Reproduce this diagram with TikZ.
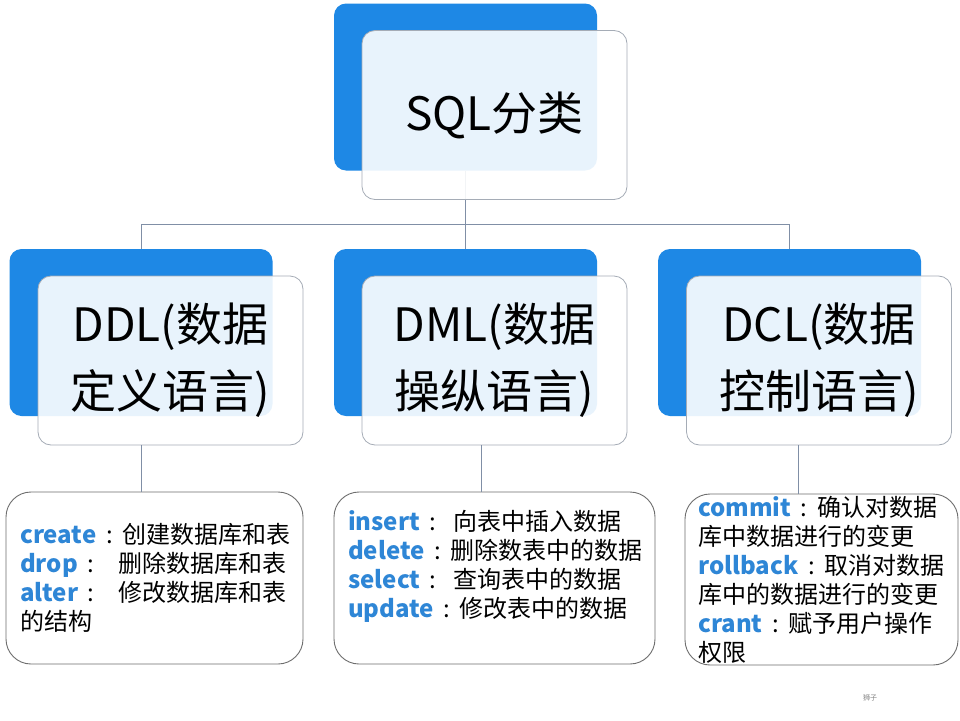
\documentclass[tikz,border=0pt]{standalone}
\usepackage{fontspec}
\setmainfont{Noto Sans CJK SC}
\usetikzlibrary{calc}
\definecolor{sqlblue}{RGB}{30,136,229}
\definecolor{kwblue}{RGB}{46,134,214}
\definecolor{connc}{RGB}{128,143,166}
\definecolor{wborder}{RGB}{165,172,182}
\definecolor{bborder}{RGB}{110,110,110}
\tikzset{
 bluebox/.style={fill=sqlblue, rounded corners=12pt, minimum width=263pt, minimum height=167pt, inner sep=0pt},
 whitebox/.style={draw=wborder, line width=0.8pt, fill=white, fill opacity=0.9, draw opacity=1, text opacity=1, rounded corners=13pt, minimum width=265pt, minimum height=169pt, inner sep=0pt, align=center, font=\fontsize{46}{67}\selectfont},
 detailbox/.style={draw=bborder, line width=0.9pt, fill=white, rounded corners=25pt, inner sep=0pt},
 detailtext/.style={anchor=north west, inner sep=0pt, align=left, font=\fontsize{24}{29}\selectfont},
 conn/.style={draw=connc, line width=0.9pt},
}
\newcommand{\kw}[1]{\textcolor{kwblue}{\bfseries #1}}
\newcommand{\cln}{\hspace{0.4em}:\hspace{0.4em}}
\begin{document}
\begin{tikzpicture}[x=1pt,y=-1pt]
\useasboundingbox[fill=white] (0,0) rectangle (960,720);
% blue back boxes
\node[bluebox] (topb) at (465.5,87) {};
\node[bluebox] (ddlb) at (141,332.5) {};
\node[bluebox] (dmlb) at (465.5,332.5) {};
\node[bluebox] (dclb) at (789.5,332.5) {};
% connectors
\coordinate (bus) at (465.5,224);
\draw[conn] (topb.south) -- (bus);
\draw[conn] (bus) -| (ddlb.north);
\draw[conn] (bus) -- (dmlb.north);
\draw[conn] (bus) -| (dclb.north);
% front boxes
\node[whitebox] (topw) at (494.5,115) {SQL分类};
\node[whitebox] (ddlw) at (170.5,360.5) {DDL(数据\\定义语言)};
\node[whitebox] (dmlw) at (494.5,360.5) {DML(数据\\操纵语言)};
\node[whitebox] (dclw) at (819,360.5) {DCL(数据\\控制语言)};
% detail boxes
\node[detailbox, minimum width=297pt, minimum height=172pt] (ddld) at (154.5,578) {};
\node[detailbox, minimum width=321pt, minimum height=172pt] (dmld) at (494.5,578) {};
\node[detailbox, minimum width=273pt, minimum height=171pt] (dcld) at (821.5,579.5) {};
\coordinate (ddlc) at (ddlb.south |- ddlw.south);
\coordinate (dmlc) at ($(dmlw.south)+(-13.5,0)$);
\coordinate (dclc) at ($(dclw.south)+(-21,0)$);
\draw[conn] (ddlc) -- (ddlc |- ddld.north);
\draw[conn] (dmlc) -- (dmlc |- dmld.north);
\draw[conn] (dclc) -- (dclc |- dcld.north);
% detail texts
\node[detailtext] (ddlt) at (20,523) {\kw{create}\cln 创建数据库和表\\\kw{drop}\cln\hspace{0.6em}删除数据库和表\\\kw{alter}\cln\hspace{0.6em}修改数据库和表\\的结构};
\node[detailtext] (dmlt) at (348,510) {\kw{insert}\cln\hspace{0.3em}向表中插入数据\\\kw{delete}\cln 删除数表中的数据\\\kw{select}\cln\hspace{0.3em}查询表中的数据\\\kw{update}\cln 修改表中的数据};
\node[detailtext] (dclt) at (698,496) {\kw{commit}\cln 确认对数据\\库中数据进行的变更\\\kw{rollback}\cln 取消对数据\\库中的数据进行的变更\\\kw{crant}\cln 赋予用户操作\\权限};
\node[font=\fontsize{7}{8}\selectfont, text=gray] (mark) at (870,698) {狮子};
\end{tikzpicture}
\end{document}
